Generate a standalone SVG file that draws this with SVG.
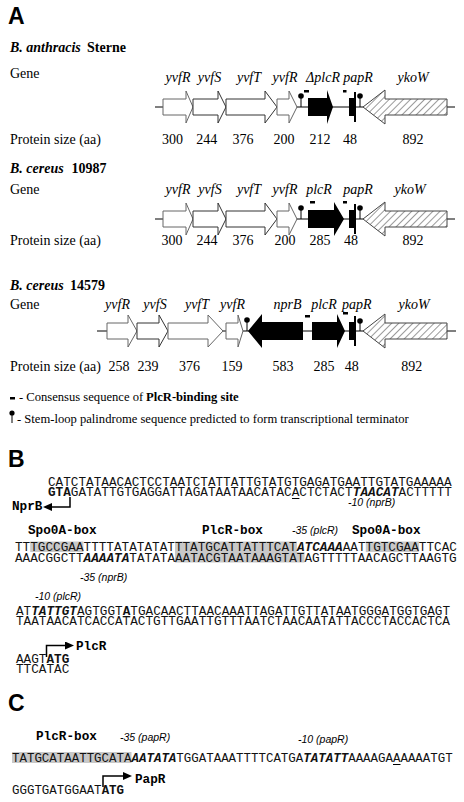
<svg xmlns="http://www.w3.org/2000/svg" width="464" height="802" viewBox="0 0 464 802">
<style>
.t{font-family:"Liberation Serif",serif;font-size:14px;fill:#000}
.gi{font-style:italic;text-anchor:middle}
.n{text-anchor:middle}
.bd{font-weight:bold}
.it{font-style:italic}
.big{font-family:"Liberation Sans",sans-serif;font-weight:bold;font-size:23px;fill:#000}
.seq{font-family:"Liberation Mono",monospace;font-size:12.7px;fill:#111}
.seqc{font-family:"Liberation Mono",monospace;font-size:12.45px;fill:#111}
.b{font-weight:bold}
.bi{font-weight:bold;font-style:italic}
.lbl{font-family:"Liberation Mono",monospace;font-size:12.7px;font-weight:bold;fill:#000}
.ar{font-family:"Liberation Sans",sans-serif;font-style:italic;font-size:10.5px;fill:#000}
.bb{stroke:#000;stroke-width:1;fill:none}
.wa{fill:#fff;stroke:#666;stroke-width:1}
.wd{fill:#fff;stroke:#333;stroke-width:1}
.blk{fill:#000}
.hat{fill:url(#hatch);stroke:#444;stroke-width:1}
.stem{stroke:#000;stroke-width:1}
.hl{fill:#c8c8c8}
.ln{stroke:#000;stroke-width:1.5;fill:none}
.leg{font-family:"Liberation Serif",serif;font-size:12.6px;fill:#000}
</style>
<defs>
<pattern id="hatch" width="5" height="5" patternUnits="userSpaceOnUse" patternTransform="rotate(45)">
<rect width="5" height="5" fill="#fff"/>
<line x1="0" y1="0" x2="0" y2="5" stroke="#555" stroke-width="1.2"/>
</pattern>
<marker id="ah" markerUnits="userSpaceOnUse" markerWidth="9" markerHeight="8" refX="0" refY="4" orient="auto">
<path d="M0,0 L9,4 L0,8 z" fill="#000"/>
</marker>
</defs>
<rect width="464" height="802" fill="#fff"/>

<!-- Panel A -->
<text class="big" x="8" y="23.5">A</text>

<g id="row-anthracis">
<text class="t bd it" x="10" y="52">B. anthracis</text>
<text class="t bd" x="87" y="52">Sterne</text>
<text class="t" x="10" y="78">Gene</text>
<text class="t gi" x="178" y="82">yvfR</text>
<text class="t gi" x="209.5" y="82">yvfS</text>
<text class="t gi" x="249" y="82">yvfT</text>
<text class="t gi" x="285" y="82">yvfR</text>
<text class="t gi" x="323" y="82">ΔplcR</text>
<text class="t gi" x="358" y="82">papR</text>
<text class="t gi" x="413" y="82">ykoW</text>
<line class="bb" x1="155" y1="107" x2="455" y2="107"/>
<polygon class="wa" points="163,99 186,99 186,91 193,107 186,123 186,115 163,115"/>
<polygon class="wd" points="193,99 218,99 218,91 226,107 218,123 218,115 193,115"/>
<polygon class="wd" points="226,99 265,99 265,91 277,107 265,123 265,115 226,115"/>
<polygon class="wa" points="277,99 289,99 289,91 297,107 289,123 289,115 277,115"/>
<line class="stem" x1="301" y1="97" x2="301" y2="107"/><circle class="blk" cx="301" cy="96" r="2.8"/>
<rect class="blk" x="304" y="90" width="5" height="2.5"/>
<polygon class="blk" points="308,98 327,98 327,90 333,107 327,124 327,116 308,116"/>
<rect class="blk" x="343" y="90" width="3.5" height="2.5"/>
<path class="blk" d="M349,98 H354 V92 H356 V122 H354 V116 H349 Z"/>
<line class="stem" x1="360" y1="97" x2="360" y2="107"/><circle class="blk" cx="360" cy="96" r="2.8"/>
<polygon class="hat" points="363,107 385,90 385,99 447,99 447,115 385,115 385,124"/>
<text class="t" x="10" y="144">Protein size (aa)</text>
<text class="t n" x="172.5" y="144">300</text>
<text class="t n" x="206.7" y="144">244</text>
<text class="t n" x="243" y="144">376</text>
<text class="t n" x="284" y="144">200</text>
<text class="t n" x="320" y="144">212</text>
<text class="t n" x="350" y="144">48</text>
<text class="t n" x="413" y="144">892</text>
</g>

<g id="row-cereus10987">
<text class="t bd it" x="10" y="173">B. cereus</text>
<text class="t bd" x="71.5" y="173">10987</text>
<text class="t" x="10" y="194">Gene</text>
<text class="t gi" x="178" y="194">yvfR</text>
<text class="t gi" x="210" y="194">yvfS</text>
<text class="t gi" x="249" y="194">yvfT</text>
<text class="t gi" x="285" y="194">yvfR</text>
<text class="t gi" x="319" y="194">plcR</text>
<text class="t gi" x="358" y="194">papR</text>
<text class="t gi" x="410" y="194">ykoW</text>
<line class="bb" x1="155" y1="219" x2="455" y2="219"/>
<polygon class="wa" points="163,211 186,211 186,203 193,219 186,235 186,227 163,227"/>
<polygon class="wd" points="193,211 218,211 218,203 226,219 218,235 218,227 193,227"/>
<polygon class="wd" points="226,211 265,211 265,203 277,219 265,235 265,227 226,227"/>
<polygon class="wa" points="277,211 289,211 289,203 297,219 289,235 289,227 277,227"/>
<line class="stem" x1="301" y1="209" x2="301" y2="219"/><circle class="blk" cx="301" cy="208" r="2.8"/>
<rect class="blk" x="310" y="201" width="5" height="2.5"/>
<polygon class="blk" points="308,210 334,210 334,202 344,219 334,236 334,228 308,228"/>
<rect class="blk" x="343" y="201" width="4" height="2.5"/>
<path class="blk" d="M349,210 H354 V204 H356 V234 H354 V228 H349 Z"/>
<line class="stem" x1="360" y1="209" x2="360" y2="219"/><circle class="blk" cx="360" cy="208" r="2.8"/>
<polygon class="hat" points="363,219 385,202 385,211 447,211 447,227 385,227 385,236"/>
<text class="t" x="10" y="245">Protein size (aa)</text>
<text class="t n" x="172" y="245">300</text>
<text class="t n" x="207" y="245">244</text>
<text class="t n" x="243" y="245">376</text>
<text class="t n" x="285" y="245">200</text>
<text class="t n" x="320" y="245">285</text>
<text class="t n" x="351" y="245">48</text>
<text class="t n" x="413" y="245">892</text>
</g>

<g id="row-cereus14579">
<text class="t bd it" x="10" y="290">B. cereus</text>
<text class="t bd" x="70" y="290">14579</text>
<text class="t" x="10" y="309">Gene</text>
<text class="t gi" x="117.5" y="309">yvfR</text>
<text class="t gi" x="155" y="309">yvfS</text>
<text class="t gi" x="197" y="309">yvfT</text>
<text class="t gi" x="232.5" y="309">yvfR</text>
<text class="t gi" x="287.5" y="309">nprB</text>
<text class="t gi" x="324" y="309">plcR</text>
<text class="t gi" x="356.7" y="309">papR</text>
<text class="t gi" x="414" y="309">ykoW</text>
<line class="bb" x1="97" y1="331" x2="456" y2="331"/>
<polygon class="wa" points="107,323 128,323 128,315 137,331 128,347 128,339 107,339"/>
<polygon class="wd" points="137,323 159,323 159,315 168,331 159,347 159,339 137,339"/>
<polygon class="wa" points="168,323 208,323 208,315 223,331 208,347 208,339 168,339"/>
<polygon class="wa" points="226,323 238,323 238,315 243,331 238,347 238,339 226,339"/>
<line class="stem" x1="247" y1="321" x2="247" y2="331"/><circle class="blk" cx="247" cy="320" r="2.8"/>
<polygon class="blk" points="248,331 262,314 262,322 303,322 303,340 262,340 262,348"/>
<rect class="blk" x="305" y="315" width="5" height="2.5"/>
<polygon class="blk" points="312,322 337,322 337,314 345,331 337,348 337,340 312,340"/>
<rect class="blk" x="343" y="312" width="5" height="2.5"/>
<path class="blk" d="M349,322 H354 V316 H356 V346 H354 V340 H349 Z"/>
<line class="stem" x1="360" y1="322" x2="360" y2="331"/><circle class="blk" cx="360" cy="321" r="2.8"/>
<polygon class="hat" points="363,331 385,314 385,323 447,323 447,339 385,339 385,348"/>
<text class="t" x="10" y="371">Protein size (aa)</text>
<text class="t n" x="119" y="371">258</text>
<text class="t n" x="148" y="371">239</text>
<text class="t n" x="189.5" y="371">376</text>
<text class="t n" x="232" y="371">159</text>
<text class="t n" x="283" y="371">583</text>
<text class="t n" x="324" y="371">285</text>
<text class="t n" x="351.7" y="371">48</text>
<text class="t n" x="411.7" y="371">892</text>
</g>

<g id="legend">
<rect class="blk" x="10" y="397" width="5" height="2.5"/>
<text class="leg" x="19" y="401">- Consensus sequence of</text>
<text class="leg bd" x="146" y="401" font-size="12.3">PlcR-binding site</text>
<line class="stem" x1="12" y1="413" x2="12" y2="423"/><circle class="blk" cx="12" cy="413" r="2.6"/>
<text class="leg" x="17" y="423">- Stem-loop palindrome sequence predicted to form transcriptional terminator</text>
</g>

<!-- Panel B -->
<text class="big" x="8" y="467">B</text>
<g id="seq-b">
<text class="seq" x="48" y="486">CATCTATAACACTCCTAATCTATTATTGTATGTGAGATGAATTGTATGAAAAA</text>
<text class="seq b" x="48" y="496">GTA</text>
<text class="seq" x="70.86" y="496">GATATTGTGAGGATTAGATAATAACATACACTCTACT</text>
<text class="seq bi" x="352.84" y="496">TAACAT</text>
<text class="seq" x="398.57" y="496">ACTTTTT</text>
<line class="stem" x1="292" y1="498.5" x2="299.4" y2="498.5"/>
<text class="ar" x="348" y="506">-10 (nprB)</text>
<text class="lbl" x="12" y="510">NprB</text>

<text class="lbl" x="28" y="534">Spo0A-box</text>
<text class="lbl" x="202" y="534">PlcR-box</text>
<text class="ar" x="292" y="534">-35 (plcR)</text>
<text class="lbl" x="352" y="534">Spo0A-box</text>

<rect class="hl" x="30.2" y="541.5" width="53.2" height="10.5"/>
<rect class="hl" x="175" y="541.5" width="121.9" height="10.5"/>
<rect class="hl" x="365.8" y="541.5" width="53.3" height="10.5"/>
<rect class="hl" x="175" y="552" width="129.5" height="10.5"/>
<text class="seq" x="15" y="551">TTTGCCGAATTTTATATATATTTATGCATTATTTCAT</text>
<text class="seq bi" x="296.98" y="551">ATCAAA</text>
<text class="seq" x="342.7" y="551">AATTGTCGAATTCAC</text>
<text class="seq" x="15" y="562">AAACGGCTT</text>
<text class="seq bi" x="83.59" y="562">AAAATA</text>
<text class="seq" x="129.32" y="562">TATATAAATACGTAATAAAGTATAGTTTTTAACAGCTTAAGTG</text>
<text class="ar" x="80" y="581">-35 (nprB)</text>

<text class="ar" x="35" y="600">-10 (plcR)</text>
<text class="seq" x="16" y="615">AT</text>
<text class="seq bi" x="31.24" y="615">TATTGT</text>
<text class="seq" x="76.97" y="615">AGTGGT</text>
<text class="seq b" x="122.69" y="615">A</text>
<text class="seq" x="130.32" y="615">TGACAACTTAACAAATTAGATTGTTATAATGGGATGGTGAGT</text>
<line class="stem" x1="122.7" y1="616.8" x2="130.3" y2="616.8"/>
<text class="seq" x="16" y="625">TAATAACATCACCATACTGTTGAATTGTTTAATCTAACAATATTACCCTACCACTCA</text>

<text class="lbl" x="76" y="650">PlcR</text>
<text class="seq" x="16" y="663">AAGT</text>
<text class="seq b" x="46.48" y="663">ATG</text>
<text class="seq" x="16" y="673">TTCATAC</text>
</g>

<!-- Panel C -->
<text class="big" x="8" y="711">C</text>
<g id="seq-c">
<text class="lbl" x="36" y="740">PlcR-box</text>
<text class="ar" x="120" y="741">-35 (papR)</text>
<text class="ar" x="298" y="743">-10 (papR)</text>
<rect class="hl" x="12" y="752" width="119.5" height="11"/>
<text class="seqc" x="12" y="762">TATGCATAATTGCATA</text>
<text class="seqc bi" x="131.54" y="762">AATATA</text>
<text class="seqc" x="176.36" y="762">TGGATAAATTTTCATGA</text>
<text class="seqc bi" x="303.37" y="762">TATATT</text>
<text class="seqc" x="348.2" y="762">AAAAGAAAAAATGT</text>
<line class="stem" x1="393" y1="764.5" x2="400.5" y2="764.5"/>
<text class="lbl" x="135" y="783">PapR</text>
<text class="seqc" x="12" y="794">GGGTGATGGAAT</text>
<text class="seqc b" x="101.65" y="794">ATG</text>
</g>

<g id="connectors">
<path class="ln" d="M70,497 V507 H52" marker-end="url(#ah)"/>
<path class="ln" d="M46.5,657 V645.5 H65" marker-end="url(#ah)"/>
<path class="ln" d="M103,787 V776 H123" marker-end="url(#ah)"/>
</g>
</svg>
